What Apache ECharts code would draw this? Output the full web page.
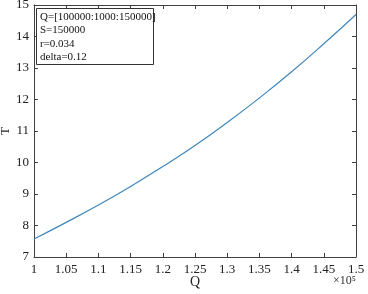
<!DOCTYPE html>
<html><head><meta charset="utf-8">
<script src="https://cdn.jsdelivr.net/npm/echarts@6/dist/echarts.min.js"></script>
<style>html,body{margin:0;padding:0;background:#fff}#c{width:368px;height:294px}</style>
</head><body><div id="c"></div>
<script>
const qValues = [100000,105000,110000,115000,120000,125000,130000,135000,140000,145000,150000];
const tValues = [7.57,8.10,8.65,9.24,9.87,10.54,11.27,12.05,12.88,13.77,14.70];
const xTicks = {min:100000,max:150000,interval:5000};
const yTicks = {min:7,max:15,interval:1};
const noteLines = ['Q=[100000:1000:150000]','S=150000','r=0.034','delta=0.12'];

const font = 'Liberation Serif';
const axisColor = '#404040';
const chart = echarts.init(document.getElementById('c'));
const data = qValues.map((q,i)=>[q,tValues[i]]);
const baseAxis = {
  axisLine:{show:true,onZero:false,lineStyle:{color:axisColor,width:1}},
  axisTick:{show:true,inside:true,length:4,lineStyle:{color:axisColor}},
  splitLine:{show:false}
};
chart.setOption({
  animation:false,
  grid:{left:34,right:12,top:5,bottom:37,containLabel:false,outerBoundsMode:'none'},
  xAxis:[
    Object.assign({type:'value',position:'bottom',min:xTicks.min,max:xTicks.max,interval:xTicks.interval,
      axisLabel:{color:'#222',fontFamily:font,fontSize:13,margin:6,formatter:v=>String(+(v/1e5).toFixed(2))},
      name:'Q',nameLocation:'middle',nameGap:18,nameMoveOverlap:false,nameTextStyle:{color:'#222',fontFamily:font,fontSize:14}},baseAxis),
    Object.assign({type:'value',position:'top',min:xTicks.min,max:xTicks.max,interval:xTicks.interval,axisLabel:{show:false}},baseAxis)
  ],
  yAxis:[
    Object.assign({type:'value',position:'left',min:yTicks.min,max:yTicks.max,interval:yTicks.interval,
      axisLabel:{color:'#222',fontFamily:font,fontSize:13,margin:5},
      name:'T',nameLocation:'middle',nameGap:22,nameMoveOverlap:false,nameRotate:90,nameTextStyle:{color:'#222',fontFamily:font,fontSize:13}},baseAxis),
    Object.assign({type:'value',position:'right',min:yTicks.min,max:yTicks.max,interval:yTicks.interval,axisLabel:{show:false}},baseAxis)
  ],
  series:[{type:'line',data:data,smooth:true,showSymbol:false,xAxisIndex:0,yAxisIndex:0,
    lineStyle:{color:'#3f86bb',width:1.2}}],
  graphic:[
    {type:'rect',left:36,top:8,shape:{width:117,height:56},style:{fill:'#fff',stroke:'#333',lineWidth:1},z:10},
    {type:'text',left:40,top:10,z:11,style:{text:noteLines.join('\n'),font:'11px "Liberation Serif"',lineHeight:13.5,fill:'#111'}},
    {type:'text',right:12,top:275,z:11,style:{text:'×10⁵',font:'12px "Liberation Serif"',fill:'#333'}}
  ]
});
</script></body></html>
